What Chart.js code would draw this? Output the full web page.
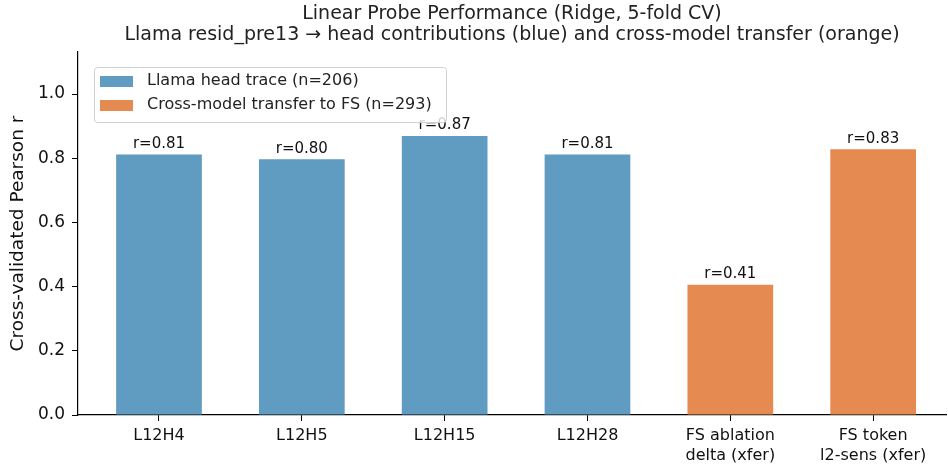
<!DOCTYPE html>
<html>
<head>
<meta charset="utf-8">
<script src="https://cdn.jsdelivr.net/npm/chart.js@4"></script>
<style>
  html, body { margin: 0; padding: 0; background: #fff; }
  #wrap { width: 948px; height: 465px; }
</style>
</head>
<body>
<div id="wrap"><canvas id="chart" width="948" height="465"></canvas></div>
<script>
const categories = ['L12H4', 'L12H5', 'L12H15', 'L12H28', ['FS ablation', 'delta (xfer)'], ['FS token', 'l2-sens (xfer)']]
const headTrace = [0.812, 0.797, 0.869, 0.812]
const transfer = [0.406, 0.828]
const valueLabels = ['r=0.81', 'r=0.80', 'r=0.87', 'r=0.81', 'r=0.41', 'r=0.83']
const yTicks = [0, 0.2, 0.4, 0.6, 0.8, 1.0]
const titleLines = ['Linear Probe Performance (Ridge, 5-fold CV)', 'Llama resid_pre13 \u2192 head contributions (blue) and cross-model transfer (orange)']

const BLUE = '#609bc1'
const ORANGE = '#e58b51'
const FONT = "'DejaVu Sans', sans-serif"

// bars sit at category index positions on a numeric x scale
const headPoints = headTrace.map((v, i) => ({ x: i, y: v }))
const transferPoints = transfer.map((v, i) => ({ x: headTrace.length + i, y: v }))

// title, legend box and bar labels drawn on top of the chart
const overlay = {
  id: 'overlay',
  afterDraw(chart) {
    const ctx = chart.ctx
    const area = chart.chartArea
    ctx.save()

    // title
    ctx.fillStyle = '#222'
    ctx.textAlign = 'center'
    ctx.textBaseline = 'middle'
    ctx.font = '19px ' + FONT
    const cx = (area.left + area.right) / 2
    ctx.fillText(titleLines[0], cx, 14)
    ctx.fillText(titleLines[1], cx, 35)

    // value labels
    ctx.font = '15px ' + FONT
    ctx.textBaseline = 'bottom'
    ctx.fillStyle = '#111'
    chart.data.datasets.forEach((ds, di) => {
      const meta = chart.getDatasetMeta(di)
      meta.data.forEach((bar, i) => {
        ctx.fillText(valueLabels[ds.data[i].x], bar.x, bar.y - 3)
      })
    })

    // legend
    const lx = area.left + 16, ly = area.top + 15
    const lw = 352, lh = 55
    ctx.fillStyle = 'rgba(255,255,255,0.8)'
    ctx.strokeStyle = '#d0d0d0'
    ctx.lineWidth = 1
    ctx.beginPath()
    ctx.roundRect(lx + 0.5, ly + 0.5, lw, lh, 3)
    ctx.fill()
    ctx.stroke()
    ctx.font = '16px ' + FONT
    ctx.textAlign = 'left'
    ctx.textBaseline = 'middle'
    chart.data.datasets.forEach((ds, di) => {
      const y = ly + 14 + di * 24
      ctx.fillStyle = ds.backgroundColor
      ctx.fillRect(lx + 6, y - 5, 33, 11)
      ctx.fillStyle = '#222'
      ctx.fillText(ds.label, lx + 53, y)
    })
    ctx.restore()
  }
}

new Chart(document.getElementById('chart'), {
  type: 'bar',
  data: {
    datasets: [
      { label: 'Llama head trace (n=206)', data: headPoints, backgroundColor: BLUE },
      { label: 'Cross-model transfer to FS (n=293)', data: transferPoints, backgroundColor: ORANGE }
    ]
  },
  options: {
    responsive: false,
    animation: false,
    layout: { padding: { top: 52, right: 2, left: 5, bottom: 0 } },
    datasets: { bar: { grouped: false, barPercentage: 0.6, categoryPercentage: 1.0 } },
    plugins: {
      legend: { display: false },
      title: { display: false },
      tooltip: { enabled: false }
    },
    scales: {
      x: {
        type: 'linear',
        offset: false,
        min: -0.567,
        max: 5.51,
        afterBuildTicks(axis) { axis.ticks = categories.map((c, i) => ({ value: i })) },
        afterFit(axis) { axis.height = 50 },
        grid: { display: true, offset: false, drawOnChartArea: false, tickLength: 6, color: '#000', tickColor: '#000' },
        border: { color: '#000', width: 1.2 },
        ticks: {
          color: '#111',
          font: { family: FONT, size: 16, lineHeight: 1.25 },
          padding: 5,
          maxRotation: 0,
          autoSkip: false,
          callback: v => categories[v]
        }
      },
      y: {
        min: 0,
        max: 1.131,
        afterBuildTicks(axis) { axis.ticks = yTicks.map(v => ({ value: v })) },
        afterFit(axis) { axis.width = 73 },
        grid: { display: true, drawOnChartArea: false, tickLength: 6, color: '#000', tickColor: '#000' },
        border: { color: '#000', width: 1.2 },
        ticks: {
          color: '#111',
          font: { family: FONT, size: 17 },
          padding: 7,
          callback: v => v.toFixed(1)
        },
        title: {
          display: true,
          text: 'Cross-validated Pearson r',
          color: '#111',
          font: { family: FONT, size: 18.5 },
          padding: { top: 2, bottom: 6 }
        }
      }
    }
  },
  plugins: [overlay]
})
</script>
</body>
</html>
